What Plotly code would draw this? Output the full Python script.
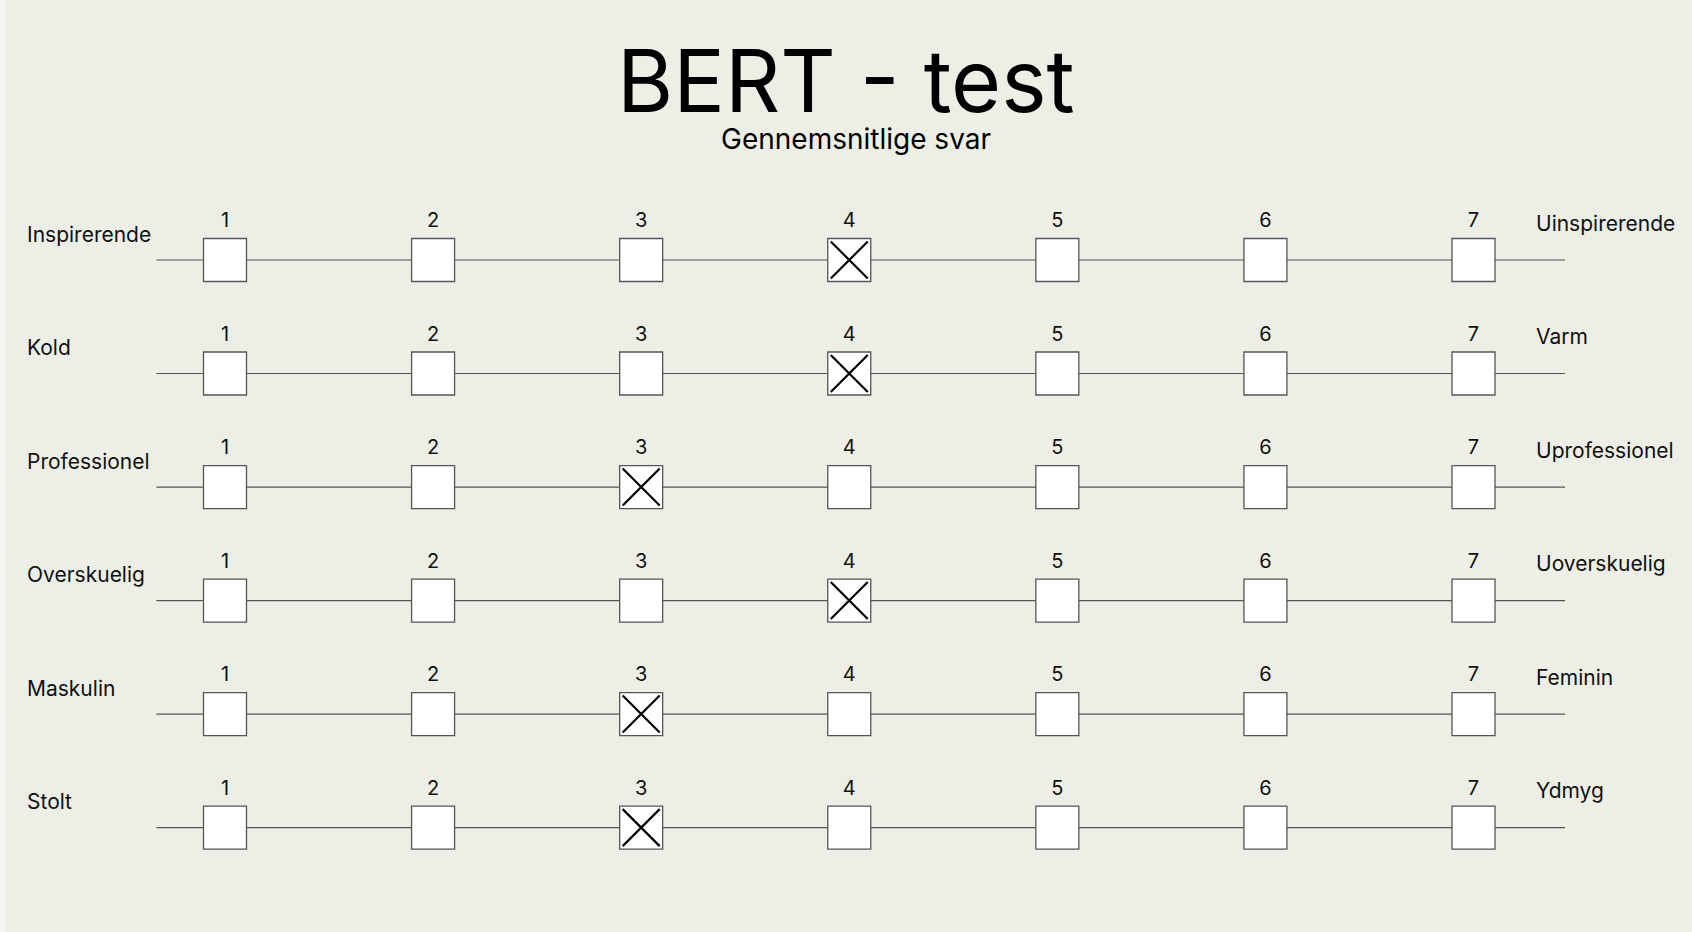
import plotly.graph_objects as go

# semantic differential scale, 1-7
LEFT_LABELS = ["Inspirerende", "Kold", "Professionel", "Overskuelig", "Maskulin", "Stolt"]
RIGHT_LABELS = ["Uinspirerende", "Varm", "Uprofessionel", "Uoverskuelig", "Feminin", "Ydmyg"]
SCALE = [1, 2, 3, 4, 5, 6, 7]
ANSWERS = [4, 4, 3, 4, 3, 3]

W, H = 1692, 932
BG = "#edefe6"
GRID = "#555555"
FONT = "Inter"

# pixel layout -> axis ranges
X1_PX, X7_PX = 225, 1473.5
PX_PER_X = (X7_PX - X1_PX) / 6
TOP_ROW_PX, BOT_ROW_PX = 260, 827.6
PX_PER_ROW = (BOT_ROW_PX - TOP_ROW_PX) / (len(LEFT_LABELS) - 1)

fig = go.Figure()

n = len(LEFT_LABELS)
for i in range(n):
    # connector line behind the boxes
    fig.add_trace(go.Scatter(
        x=[SCALE[0] - 0.33, SCALE[-1] + 0.44], y=[i, i],
        mode="lines", line=dict(color=GRID, width=1.2),
        hoverinfo="skip", showlegend=False,
    ))
    fig.add_trace(go.Scatter(
        x=SCALE, y=[i] * len(SCALE),
        mode="markers+text",
        text=[str(v) for v in SCALE],
        textposition="top center",
        textfont=dict(family=FONT, size=20, color="#111"),
        marker=dict(symbol="square", size=43, color="white",
                    line=dict(color=GRID, width=1.3)),
        hoverinfo="skip", showlegend=False,
    ))

fig.add_trace(go.Scatter(
    x=ANSWERS, y=list(range(n)),
    mode="markers",
    marker=dict(symbol="x-thin", size=37, line=dict(color="black", width=2.2)),
    hoverinfo="skip", showlegend=False,
))

for i, (lft, rgt) in enumerate(zip(LEFT_LABELS, RIGHT_LABELS)):
    fig.add_annotation(x=25 / W, xref="paper", y=i, yref="y", text=lft,
                       xanchor="left", yanchor="middle", yshift=26, showarrow=False,
                       font=dict(family=FONT, size=21, color="#111"))
    fig.add_annotation(x=1534 / W, xref="paper", y=i, yref="y", text=rgt,
                       xanchor="left", yanchor="middle", yshift=37, showarrow=False,
                       font=dict(family=FONT, size=21, color="#111"))

fig.add_annotation(x=0.5, xref="paper", y=1 - 81 / H, yref="paper", text="BERT - test",
                   showarrow=False, xanchor="center", yanchor="middle",
                   font=dict(family=FONT, size=86, color="black"))
fig.add_annotation(x=0.5, xref="paper", xshift=10, y=1 - 139 / H, yref="paper",
                   text="Gennemsnitlige svar", showarrow=False,
                   xanchor="center", yanchor="middle",
                   font=dict(family=FONT, size=28, color="black"))

# thin lighter strip at the left edge
fig.add_shape(type="rect", xref="paper", yref="paper", x0=0, x1=5 / W, y0=0, y1=1,
              fillcolor="#f5f6f1", line=dict(width=0), layer="below")

x_lo = SCALE[0] - X1_PX / PX_PER_X
x_hi = SCALE[-1] + (W - X7_PX) / PX_PER_X
y_top = -TOP_ROW_PX / PX_PER_ROW
y_bot = (n - 1) + (H - BOT_ROW_PX) / PX_PER_ROW

fig.update_layout(
    width=W, height=H,
    margin=dict(l=0, r=0, t=0, b=0),
    paper_bgcolor=BG, plot_bgcolor=BG,
    xaxis=dict(range=[x_lo, x_hi], visible=False, fixedrange=True),
    yaxis=dict(range=[y_bot, y_top], visible=False, fixedrange=True),
    showlegend=False,
)

fig.write_html("out.html", config={"displayModeBar": False},
               post_script="document.body.style.margin='0';")
